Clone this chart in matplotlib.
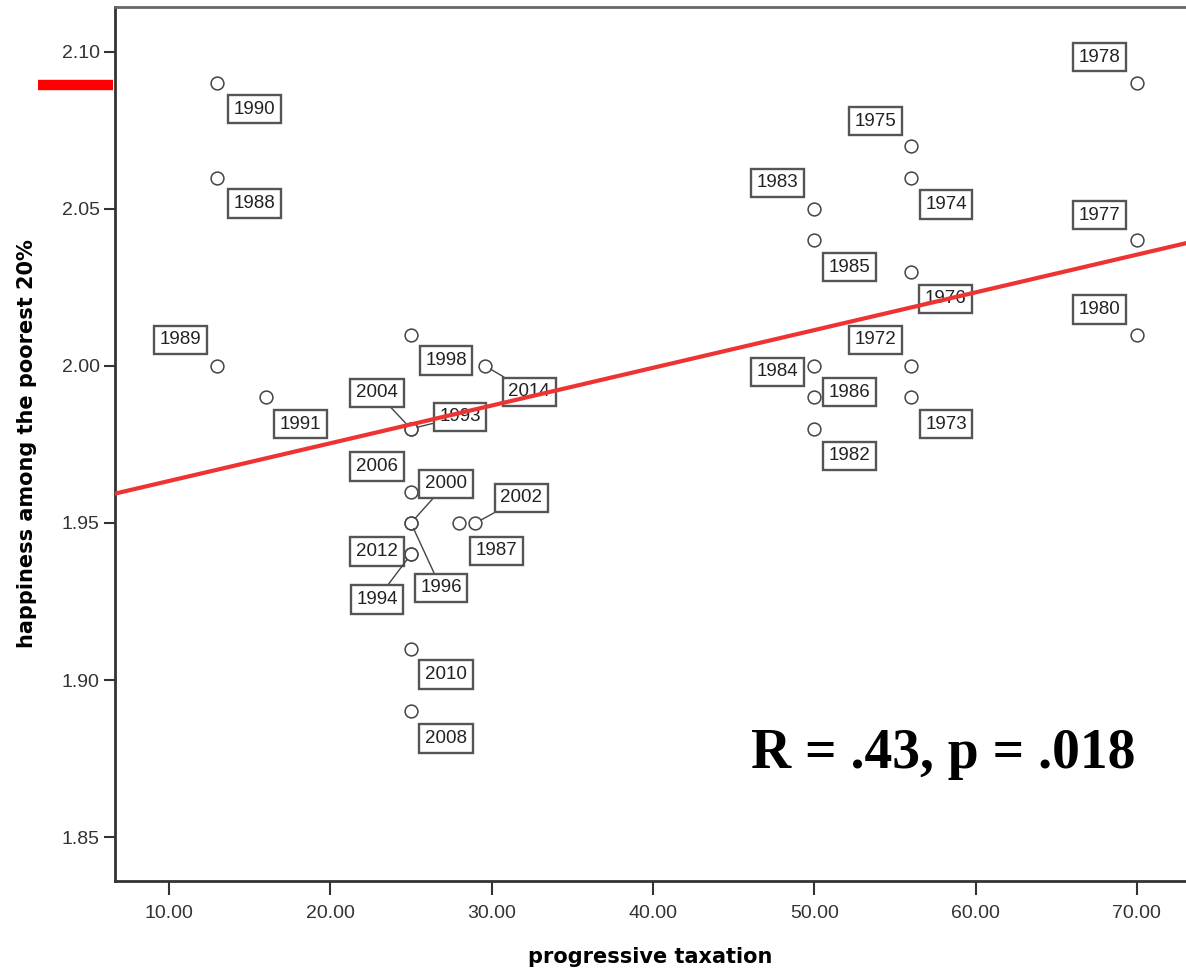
import numpy as np
import matplotlib
matplotlib.use("Agg")
import matplotlib.pyplot as plt
import matplotlib.transforms as mtransforms

# ---------------- data ----------------
years = ["1990", "1988", "1989", "1991", "1998", "2014", "2004", "1993",
         "2006", "2000", "1996", "2012", "1994", "1987", "2002", "2010", "2008",
         "1983", "1985", "1984", "1986", "1982",
         "1975", "1974", "1976", "1972", "1973",
         "1978", "1977", "1980"]
taxation = [13, 13, 13, 16, 25, 29.6, 25, 25,
            25, 25, 25, 25, 25, 28, 29, 25, 25,
            50, 50, 50, 50, 50,
            56, 56, 56, 56, 56,
            70, 70, 70]
happiness = [2.09, 2.06, 2.00, 1.99, 2.01, 2.00, 1.98, 1.98,
             1.96, 1.95, 1.95, 1.94, 1.94, 1.95, 1.95, 1.91, 1.89,
             2.05, 2.04, 2.00, 1.99, 1.98,
             2.07, 2.06, 2.03, 2.00, 1.99,
             2.09, 2.04, 2.01]
x_ticks = [10, 20, 30, 40, 50, 60, 70]
y_ticks = [1.85, 1.90, 1.95, 2.00, 2.05, 2.10]
stat_text = "R = .43, p = .018"
highlight_level = 2.0895

# ---------------- layout (label offsets in pixels, y down) ----------------
DR = (37, 26); UL = (-37, -26)
offsets = {
    "1990": DR, "1988": DR, "1989": UL, "1991": (35, 27), "1998": (35, 26),
    "2014": (44, 26), "2004": (-34, -36), "1993": (49, -12),
    "2006": (-34, -25), "2000": (35, -39), "1996": (30, 65), "2012": (-34, -3),
    "1994": (-34, 45), "1987": (37, 28), "2002": (46, -25),
    "2010": (35, 26), "2008": (35, 27),
    "1983": UL, "1985": (35, 27), "1984": (-37, 6), "1986": (35, -5), "1982": (35, 27),
    "1975": (-35, -25), "1974": (35, 27), "1976": (35, 27), "1972": (-35, -26), "1973": (35, 27),
    "1978": (-37, -26), "1977": (-37, -25), "1980": (-37, -25),
}
leader = {"2014", "2004", "1993", "2000", "1996", "1994", "2002"}

W, H = 1186, 972
fig = plt.figure(figsize=(W / 100, H / 100), dpi=100)
ax = fig.add_axes([115 / W, (H - 881) / H, 1 - 115 / W, (881 - 7) / H])
ax.set_xlim(6.65, 73.05)
ax.set_ylim(1.836, 2.1143)

edge = "#444444"
ax.scatter(taxation, happiness, s=85, facecolors="white", edgecolors=edge,
           linewidths=1.1, zorder=3)

for yr, xv, yv in zip(years, taxation, happiness):
    dx, dy = offsets[yr]
    kw = {}
    if yr in leader:
        kw["arrowprops"] = dict(arrowstyle="-", color=edge, lw=1.0,
                                shrinkA=0, shrinkB=4.5)
    ax.annotate(yr, xy=(xv, yv), xytext=(dx * 0.72, -dy * 0.72),
                textcoords="offset points", ha="center", va="center",
                fontsize=13.5, family="Liberation Sans", color="#222222",
                bbox=dict(boxstyle="square,pad=0.3", fc="white", ec="#555555", lw=1.7),
                zorder=4, **kw)

# regression line fitted to the data
slope, intercept = np.polyfit(taxation, happiness, 1)
xs = np.array([6.65, 73.05])
ax.plot(xs, slope * xs + intercept, color="#ee3333", lw=3, zorder=6)

# red highlight bar next to y-axis
trans = mtransforms.blended_transform_factory(ax.transAxes, ax.transData)
ax.plot([-0.072, -0.002], [highlight_level, highlight_level], transform=trans,
        color="red", lw=7.5, solid_capstyle="butt", clip_on=False, zorder=10)

ax.set_xticks(x_ticks)
ax.set_xticklabels([f"{v:.2f}" for v in x_ticks])
ax.set_yticks(y_ticks)
ax.set_yticklabels([f"{v:.2f}" for v in y_ticks])
ax.tick_params(axis="x", length=10, width=1.5, color="#333333", pad=7,
               labelsize=14, labelcolor="#333333")
ax.tick_params(axis="y", length=8, width=1.5, color="#333333", pad=3,
               labelsize=14, labelcolor="#333333")
for lbl in ax.get_xticklabels() + ax.get_yticklabels():
    lbl.set_family("Liberation Sans")

for s in ["left", "bottom"]:
    ax.spines[s].set_linewidth(2)
    ax.spines[s].set_color("#333333")
ax.spines["top"].set_linewidth(2)
ax.spines["top"].set_color("#666666")
ax.spines["right"].set_visible(False)

ax.set_xlabel("progressive taxation", fontsize=15, fontweight="bold",
              family="DejaVu Sans", labelpad=18)
ax.set_ylabel("happiness among the poorest 20%", fontsize=15, fontweight="bold",
              family="DejaVu Sans", labelpad=18)

fig.text(943 / W, 1 - 768 / H, stat_text, ha="center", va="baseline",
         fontsize=40, fontweight="bold", family="Liberation Serif")

fig.savefig("out.png", dpi=100)
